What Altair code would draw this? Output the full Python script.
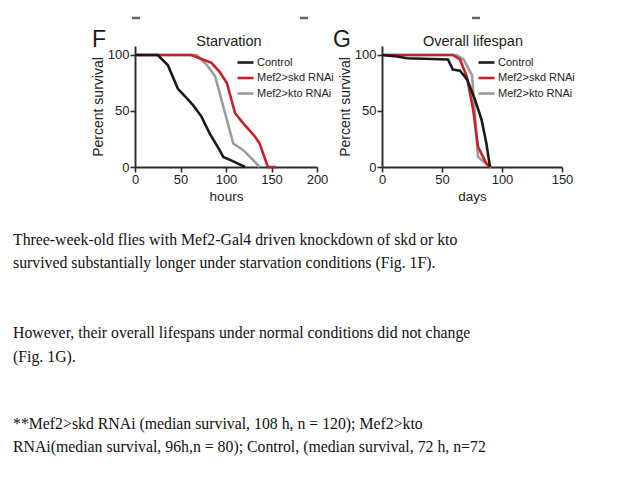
import altair as alt
import pandas as pd

# ---------------- data ----------------
series = ["Control", "Mef2>skd RNAi", "Mef2>kto RNAi"]
colors = ["#1a1a1a", "#c8202a", "#9c9c9c"]

# Panel F: Starvation (hours, percent survival)
f_ctrl_x = [0, 25, 36, 47, 55, 64, 73, 82, 93, 97, 108, 121]
f_ctrl_y = [100, 100, 91, 70, 63, 55, 45, 30, 15, 9, 5, 0]
f_skd_x = [0, 62, 71, 84, 93, 101, 110, 119, 132, 137, 146, 155]
f_skd_y = [100, 100, 97, 93, 85, 75, 48, 39, 27, 21, 0, 0]
f_kto_x = [0, 68, 79, 88, 97, 108, 119, 130, 137]
f_kto_y = [100, 100, 91, 81, 54, 21, 15, 6, 0]

# Panel G: Overall lifespan (days, percent survival)
g_ctrl_x = [0, 10, 21, 55, 59, 65, 71, 77.5, 83, 87, 90]
g_ctrl_y = [100, 99, 97, 96, 87, 86, 78, 60, 42, 21, 0]
g_skd_x = [0, 59, 65, 70.6, 76, 80, 87, 90]
g_skd_y = [100, 100, 96, 81, 51, 18, 3, 0]
g_kto_x = [0, 62, 68, 75, 80, 84.5, 91]
g_kto_y = [100, 100, 96, 82, 9, 5, 0]

f_ticks = [0, 50, 100, 150, 200]
g_ticks = [0, 50, 100, 150]
y_ticks = [0, 50, 100]

text_lines = [
    "Three-week-old flies with Mef2-Gal4 driven knockdown of skd or kto",
    "survived substantially longer under starvation conditions (Fig. 1F).",
    "However, their overall lifespans under normal conditions did not change",
    "(Fig. 1G).",
    "**Mef2>skd RNAi (median survival, 108 h, n = 120); Mef2>kto",
    "RNAi(median survival, 96h,n = 80); Control, (median survival, 72 h, n=72",
]
text_y = [240, 263, 333, 357, 424, 447]

W, H = 638, 479
SANS = "Liberation Sans"
SERIF = "Liberation Serif"
AX = "#2a2a2a"


def df(xs, ys, name):
    return pd.DataFrame({"x": xs, "y": ys, "series": name})


def panel(data_sets, xdom, xrange, xticks, xtitle, yaxis_x, legend_x):
    x_enc = alt.X(
        "x:Q",
        scale=alt.Scale(domain=xdom, range=xrange, nice=False, zero=False),
        axis=alt.Axis(
            values=xticks, orient="bottom", offset=167 - H, title=xtitle,
            labelFont=SANS, labelFontSize=13, labelColor="#222",
            titleFont=SANS, titleFontSize=13.5, titleFontWeight="normal",
            titleColor="#222", tickSize=5, tickWidth=1.6, tickColor=AX,
            domainColor=AX, domainWidth=1.9, labelPadding=1, titlePadding=3,
            grid=False, labelFlush=False, labelOverlap=False,
        ),
    )
    y_enc = alt.Y(
        "y:Q",
        scale=alt.Scale(domain=[0, 108], range=[167, 46], nice=False),
        axis=alt.Axis(
            values=y_ticks, orient="left", offset=-yaxis_x,
            title="Percent survival",
            labelFont=SANS, labelFontSize=13, labelColor="#222",
            titleFont=SANS, titleFontSize=14, titleFontWeight="normal",
            titleColor="#222", tickSize=5, tickWidth=1.6, tickColor=AX,
            domainColor=AX, domainWidth=1.9, labelPadding=1, titlePadding=2,
            grid=False, labelFlush=False, labelOverlap=False,
        ),
    )
    c_enc = alt.Color(
        "series:N",
        scale=alt.Scale(domain=series, range=colors),
        legend=alt.Legend(
            orient="none", legendX=legend_x, legendY=53, title=None,
            symbolType="stroke", symbolSize=256, symbolStrokeWidth=2.6,
            labelFont=SANS, labelFontSize=11, labelColor="#222",
            labelOffset=2, rowPadding=0.5, padding=0,
        ),
    )
    layers = []
    for d in data_sets:
        layers.append(
            alt.Chart(d).mark_line(strokeWidth=2.6, interpolate="linear").encode(
                x=x_enc, y=y_enc, color=c_enc
            )
        )
    return alt.layer(*layers)


# draw order: gray bottom, red middle, black top
F = panel(
    [df(f_kto_x, f_kto_y, series[2]), df(f_skd_x, f_skd_y, series[1]),
     df(f_ctrl_x, f_ctrl_y, series[0])],
    [0, 200], [135, 317], f_ticks, "hours", 135, 236,
)
G = panel(
    [df(g_kto_x, g_kto_y, series[2]), df(g_skd_x, g_skd_y, series[1]),
     df(g_ctrl_x, g_ctrl_y, series[0])],
    [0, 150], [382, 562], g_ticks, "days", 382, 477,
)


def label(txt, x, y, size, font=SANS, align="center", color="#1a1a1a"):
    return alt.Chart(pd.DataFrame({"t": [txt]})).mark_text(
        font=font, fontSize=size, align=align, baseline="middle", color=color
    ).encode(x=alt.value(x), y=alt.value(y), text="t:N")


annots = [
    label("F", 99, 40, 23),
    label("G", 342, 40, 23),
    label("Starvation", 229, 42, 14.5),
    label("Overall lifespan", 473, 42, 14.5),
]
for t, yy in zip(text_lines, text_y):
    annots.append(label(t, 13, yy, 15.8, font=SERIF, align="left", color="#111"))

dash_x = [136, 304, 476]
for dx in dash_x:
    annots.append(
        alt.Chart(pd.DataFrame({"a": [0]})).mark_rule(color="#666", strokeWidth=2.5).encode(
            x=alt.value(dx - 4), x2=alt.value(dx + 4), y=alt.value(18)
        )
    )

chart = (
    alt.layer(F, G, *annots)
    .resolve_scale(x="independent", y="independent", color="independent")
    .properties(width=W, height=H, padding=0,
                autosize=alt.AutoSizeParams(type="none"), background="white")
    .configure_view(stroke=None)
)

chart.save("out.html", embed_options={"renderer": "svg", "actions": False})
